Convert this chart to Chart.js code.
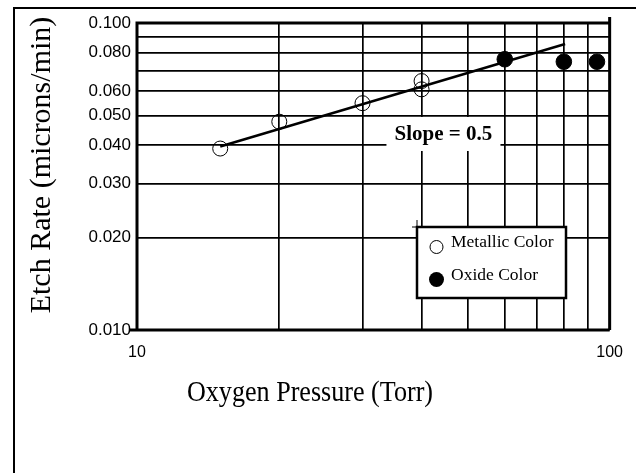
<!DOCTYPE html>
<html>
<head>
<meta charset="utf-8">
<script src="https://cdn.jsdelivr.net/npm/chart.js@4"></script>
<style>
body{margin:0;background:#fff;}
#wrap{width:636px;height:473px;position:relative;}
</style>
</head>
<body>
<div id="wrap"><canvas id="grafico"></canvas></div>
<script>
// data
const metallicX = [15, 20, 30, 40, 40];
const metallicY = [0.039, 0.0477, 0.0548, 0.0647, 0.0608];
const oxideX = [60, 80, 94];
const oxideY = [0.0762, 0.0748, 0.0748];
const fitX = [15, 80.5];
const fitY = [0.0396, 0.0854];

const xGrid = [10, 20, 30, 40, 50, 60, 70, 80, 90, 100];
const xLabeled = [10, 100];
const yGrid = [0.01, 0.02, 0.03, 0.04, 0.05, 0.06, 0.07, 0.08, 0.09, 0.1];
const yLabeled = ["0.010", "0.020", "0.030", "0.040", "0.050", "0.060", "0.080", "0.100"];

const xTitle = "Oxygen Pressure (Torr)";
const yTitle = "Etch Rate (microns/min)";
const slopeText = "Slope = 0.5";

function pts(xs, ys){
  return xs.map((x, i) => ({x: x, y: ys[i]}));
}

const extras = {
  id: "extras",
  beforeDraw(chart){
    const c = chart.ctx;
    c.save();
    // outer frame
    c.strokeStyle = "#000";
    c.lineWidth = 2;
    c.beginPath();
    c.moveTo(14, 473);
    c.lineTo(14, 8);
    c.lineTo(636, 8);
    c.stroke();
    c.restore();
  },
  afterDatasetsDraw(chart){
    const c = chart.ctx;
    const a = chart.chartArea;
    const xs = chart.scales.x, ys = chart.scales.y;
    c.save();

    // slope label with white box
    const sx = xs.getPixelForValue(44.5);
    const sy = ys.getPixelForValue(0.0435);
    c.fillStyle = "#fff";
    c.fillRect(sx - 57, sy - 17, 114, 34);
    c.fillStyle = "#000";
    c.font = "bold 21px 'Liberation Serif'";
    c.textAlign = "center";
    c.textBaseline = "alphabetic";
    c.fillText(slopeText, sx, sy + 6);

    // legend box
    const lx = 417, ly = 227, lw = 149, lh = 71;
    c.fillStyle = "#fff";
    c.fillRect(lx, ly, lw, lh);
    c.strokeStyle = "#000";
    c.lineWidth = 2.5;
    c.strokeRect(lx, ly, lw, lh);
    c.lineWidth = 1;
    c.beginPath();
    c.moveTo(lx, ly - 7); c.lineTo(lx, ly);
    c.moveTo(lx - 5, ly); c.lineTo(lx, ly);
    c.stroke();
    c.font = "17.5px 'Liberation Serif'";
    c.textAlign = "left";
    c.fillStyle = "#000";
    const ds = chart.data.datasets;
    // metallic
    c.beginPath();
    c.arc(436.5, 247, 6.5, 0, Math.PI * 2);
    c.lineWidth = 1;
    c.stroke();
    c.fillText(ds[0].label, 451, 247);
    // oxide
    c.beginPath();
    c.arc(436.5, 279.5, 7.5, 0, Math.PI * 2);
    c.fill();
    c.fillText(ds[1].label, 451, 280);

    // plot frame
    c.strokeStyle = "#000";
    c.lineWidth = 3;
    c.beginPath();
    c.moveTo(130, a.bottom);
    c.lineTo(a.right, a.bottom);
    c.moveTo(a.left, a.bottom);
    c.lineTo(a.left, a.top);
    c.lineTo(a.right, a.top);
    c.moveTo(a.right, a.top - 6);
    c.lineTo(a.right, a.bottom);
    c.stroke();

    // axis titles
    c.fillStyle = "#000";
    c.font = "30px 'Liberation Serif'";
    c.textAlign = "center";
    c.save();
    c.translate(310, 401);
    c.scale(0.87, 1);
    c.fillText(xTitle, 0, 0);
    c.restore();
    c.save();
    c.translate(50, 165);
    c.rotate(-Math.PI / 2);
    c.fillText(yTitle, 0, 0);
    c.restore();

    c.restore();
  }
};

new Chart(document.getElementById("grafico"), {
  type: "scatter",
  data: {
    datasets: [
      {
        label: "Metallic Color",
        data: pts(metallicX, metallicY),
        pointRadius: 7.5,
        pointBorderWidth: 1,
        borderColor: "#000",
        backgroundColor: "rgba(0,0,0,0)"
      },
      {
        label: "Oxide Color",
        data: pts(oxideX, oxideY),
        pointRadius: 7.8,
        borderColor: "#000",
        backgroundColor: "#000"
      },
      {
        label: "fit",
        data: pts(fitX, fitY),
        showLine: true,
        pointRadius: 0,
        borderWidth: 2.5,
        borderColor: "#000"
      }
    ]
  },
  options: {
    responsive: true,
    maintainAspectRatio: false,
    animation: false,
    layout: {padding: {top: 23, right: 18, left: 0, bottom: 0}},
    plugins: {legend: {display: false}, tooltip: {enabled: false}},
    scales: {
      x: {
        type: "logarithmic",
        min: 10,
        max: 100,
        afterBuildTicks: s => { s.ticks = xGrid.map(v => ({value: v})); },
        afterFit: s => { s.height = 143; },
        grid: {color: "#000", lineWidth: 1.7, drawTicks: false},
        border: {display: false},
        ticks: {
          color: "#000",
          padding: 13,
          maxRotation: 0,
          autoSkip: false,
          font: {family: "'Liberation Sans'", size: 16},
          callback: v => xLabeled.includes(v) ? String(v) : ""
        }
      },
      y: {
        type: "logarithmic",
        min: 0.01,
        max: 0.1,
        afterBuildTicks: s => { s.ticks = yGrid.map(v => ({value: v})); },
        afterFit: s => { s.width = 137; },
        grid: {color: "#000", lineWidth: 1.7, drawTicks: false},
        border: {display: false},
        ticks: {
          color: "#000",
          padding: 6,
          autoSkip: false,
          font: {family: "'Liberation Sans'", size: 17},
          callback: v => yLabeled.includes(v.toFixed(3)) ? v.toFixed(3) : ""
        }
      }
    }
  },
  plugins: [extras]
});
</script>
</body>
</html>
